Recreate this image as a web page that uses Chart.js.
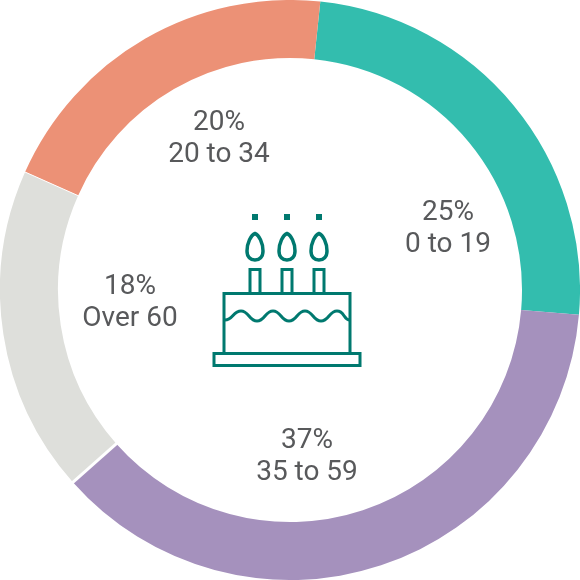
<!DOCTYPE html>
<html lang="en">
<head>
    <meta charset="UTF-8">
    <title>Age groups</title>
    <script src="https://cdn.jsdelivr.net/npm/chart.js"></script>
    <style>
        html, body { margin: 0; padding: 0; background: #fff; }
        #wrap { position: relative; width: 580px; height: 580px; }
    </style>
</head>
<body>
    <div id="wrap"><canvas id="ages"></canvas></div>
    <script>
        const categories = ["0 to 19", "35 to 59", "Over 60", "20 to 34"];
        // the labels show them rounded
        const shares = [24.7, 37.1, 18.2, 20];
        const sliceColors = ["#33BDAE", "#A591BD", "#DEDFDB", "#EC9176"];

        // label centres, picked by eye (not on the slice midlines in the original)
        const labelSpots = [[448, 228], [307, 456], [130, 302], [219, 138]];
        // white line after each slice, only some edges have one
        const gapWidths = [0, 3, 1, 0];

        // drawn by hand because a slice borderWidth shrinks the ring
        const sliceGaps = {
            id: "sliceGaps",
            afterDatasetsDraw(chart) {
                const ctx = chart.ctx;
                ctx.save();
                ctx.strokeStyle = "#fff";
                chart.getDatasetMeta(0).data.forEach((arc, i) => {
                    if (!gapWidths[i]) return;
                    const a = arc.endAngle;
                    ctx.lineWidth = gapWidths[i];
                    ctx.beginPath();
                    ctx.moveTo(arc.x + (arc.innerRadius - 1) * Math.cos(a), arc.y + (arc.innerRadius - 1) * Math.sin(a));
                    ctx.lineTo(arc.x + (arc.outerRadius + 2) * Math.cos(a), arc.y + (arc.outerRadius + 2) * Math.sin(a));
                    ctx.stroke();
                });
                ctx.restore();
            }
        };

        const sliceLabels = {
            id: "sliceLabels",
            afterDraw(chart) {
                const ctx = chart.ctx;
                ctx.save();
                ctx.fillStyle = "#58595B";
                ctx.font = "28px Roboto";
                ctx.textAlign = "center";
                ctx.textBaseline = "middle";
                categories.forEach((name, i) => {
                    const [x, y] = labelSpots[i];
                    ctx.fillText(Math.round(shares[i]) + "%", x, y - 15);
                    ctx.fillText(name, x, y + 17);
                });
                ctx.restore();
            }
        };

        // birthday cake icon in the hole
        const cakeIcon = {
            id: "cakeIcon",
            afterDraw(chart) {
                const ctx = chart.ctx;
                ctx.save();
                ctx.strokeStyle = "#00796F";
                ctx.fillStyle = "#00796F";
                ctx.lineWidth = 3;
                [255, 287, 319].forEach((x) => {
                    ctx.fillRect(x - 3, 214, 6, 6);
                    ctx.strokeRect(x - 5, 269.5, 10, 24);
                    ctx.lineWidth = 3.5;
                    ctx.beginPath();
                    ctx.moveTo(x, 233.5);
                    ctx.bezierCurveTo(x - 4, 235, x - 8, 243, x - 8, 251);
                    ctx.bezierCurveTo(x - 8, 257, x - 4.5, 260, x, 260);
                    ctx.bezierCurveTo(x + 4.5, 260, x + 8, 257, x + 8, 251);
                    ctx.bezierCurveTo(x + 8, 243, x + 4, 235, x, 233.5);
                    ctx.closePath();
                    ctx.stroke();
                    ctx.lineWidth = 3;
                });
                ctx.strokeRect(224, 293.5, 126, 60);
                ctx.fillStyle = "#fff";
                ctx.fillRect(214, 353.5, 146, 12);
                ctx.strokeRect(214, 353.5, 146, 12);
                ctx.beginPath();
                ctx.moveTo(225, 320);
                ctx.bezierCurveTo(233, 320, 233, 311, 241, 311);
                [257, 289, 321].forEach((x) => {
                    ctx.bezierCurveTo(x - 8, 311, x - 8, 321, x, 321);
                    ctx.bezierCurveTo(x + 8, 321, x + 8, 311, x + 16, 311);
                });
                ctx.bezierCurveTo(345, 311, 343, 320, 350, 320);
                ctx.stroke();
                ctx.restore();
            }
        };

        new Chart(document.getElementById("ages"), {
            type: "doughnut",
            data: {
                labels: categories,
                datasets: [{
                    data: shares,
                    backgroundColor: sliceColors,
                    borderWidth: 0
                }]
            },
            options: {
                responsive: true,
                maintainAspectRatio: true,
                aspectRatio: 1,
                animation: false,
                rotation: 6,
                cutout: "80%",
                layout: { padding: 0 },
                plugins: {
                    legend: { display: false },
                    tooltip: { enabled: false }
                }
            },
            plugins: [sliceGaps, sliceLabels, cakeIcon]
        });
    </script>
</body>
</html>
